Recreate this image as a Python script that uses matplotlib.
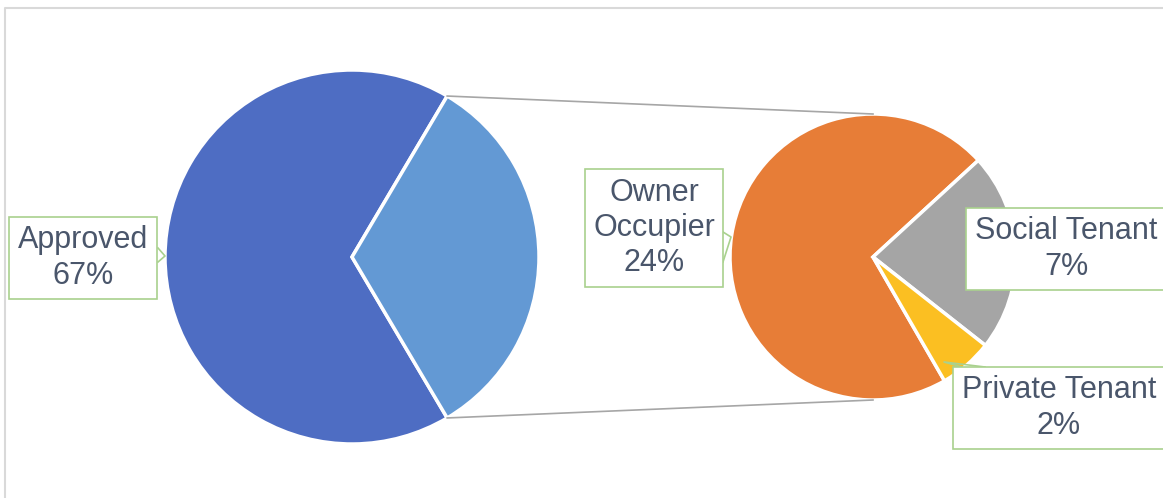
import matplotlib.pyplot as plt
import numpy as np

# Werte (Anteile in %)
main_labels = ["Approved", "Other"]
approved = 67.0
sub_labels = ["Owner\nOccupier", "Social Tenant", "Private Tenant"]
sub_values = [23.6, 7.4, 2.0]

other = sum(sub_values)
main_values = [approved, other]

W, H = 1163, 498
fig = plt.figure(figsize=(W / 100, H / 100), dpi=100)
ax = fig.add_axes([0, 0, 1, 1])

txtcol = "#4A566B"
boxcol = "#A9D18E"
plt.rcParams["font.family"] = ["Liberation Sans", "DejaVu Sans"]

# linker Kreis
c1, r1 = (352, 241), 187
half = other / 100 * 360 / 2
ax.pie(main_values, colors=["#4E6DC3", "#6399D4"], startangle=half, center=c1, radius=r1,
       wedgeprops=dict(edgecolor="white", linewidth=2.5))

# rechter Kreis
c2, r2 = (873, 241), 143
ax.pie(sub_values, colors=["#E77D37", "#A5A5A5", "#FBBF22"], startangle=-60, counterclock=False,
       center=c2, radius=r2, wedgeprops=dict(edgecolor="white", linewidth=2.5))

# Verbindungslinien
a = np.deg2rad(half)
ax.plot([c1[0] + r1 * np.cos(a), c2[0]], [c1[1] + r1 * np.sin(a), c2[1] + r2], color="#A6A6A6", lw=1.2)
ax.plot([c1[0] + r1 * np.cos(a), c2[0]], [c1[1] - r1 * np.sin(a), c2[1] - r2], color="#A6A6A6", lw=1.2)

bb = dict(boxstyle="square,pad=0.28", fc="white", ec=boxcol, lw=1.2)
fs = 22
ls = 1.22
ax.text(83, 240, f"{main_labels[0]}\n{main_values[0]:.0f}%", ha="center", va="center",
        fontsize=fs, color=txtcol, bbox=bb, linespacing=ls)
ax.text(654, 270, f"{sub_labels[0]}\n{sub_values[0]:.0f}%", ha="center", va="center",
        fontsize=fs, color=txtcol, bbox=bb, linespacing=ls)
ax.text(1066, 249, f"{sub_labels[1]}\n{sub_values[1]:.0f}%", ha="center", va="center",
        fontsize=fs, color=txtcol, bbox=bb, linespacing=ls)
ax.text(1059, 90, f"{sub_labels[2]}\n{sub_values[2]:.0f}%", ha="center", va="center",
        fontsize=fs, color=txtcol, bbox=bb, linespacing=ls)

# kleine Zeiger
ax.plot([158, 165, 158], [250, 242, 236], color=boxcol, lw=1.2)
ax.plot([723, 731, 723], [266, 261, 236], color=boxcol, lw=1.2)
ax.plot([962, 944, 985], [131, 136, 131], color=boxcol, lw=1.2)

# Rahmen
ax.plot([4.5, 4.5, W], [0, 490, 490], color="#D9D9D9", lw=1.5)

ax.set_xlim(0, W)
ax.set_ylim(0, H)
ax.set_aspect("auto")
ax.axis("off")
plt.savefig("out.png", dpi=100)
